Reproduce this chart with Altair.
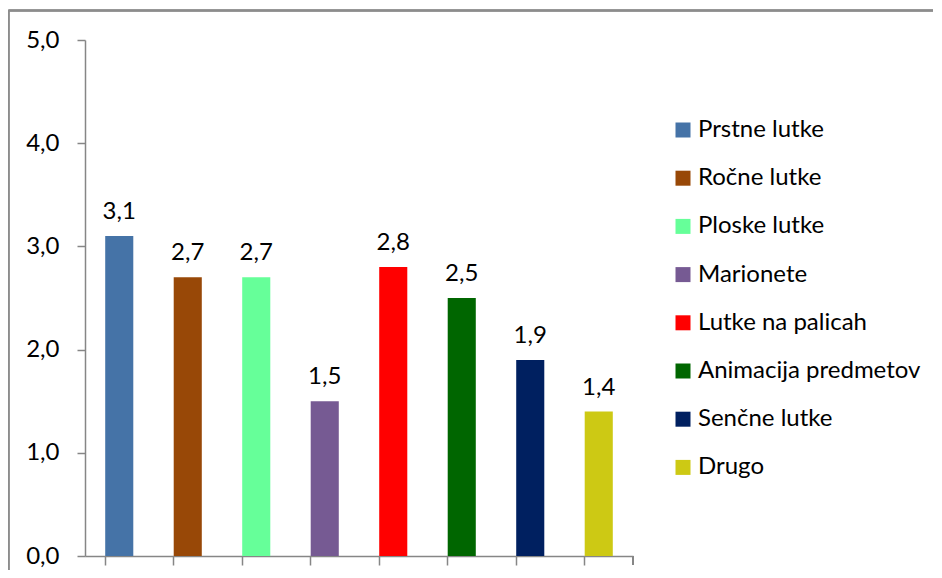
import altair as alt
import pandas as pd

categories = ["Prstne lutke", "Ročne lutke", "Ploske lutke", "Marionete",
              "Lutke na palicah", "Animacija predmetov", "Senčne lutke", "Drugo"]
values = [3.1, 2.7, 2.7, 1.5, 2.8, 2.5, 1.9, 1.4]
colors = ["#4573A7", "#984807", "#66FF99", "#765A93",
          "#FF0000", "#006600", "#002060", "#CDC914"]

df = pd.DataFrame({"cat": categories, "val": values})

W, H = 548, 516
FONT = "Lato"
FS = 24

x = alt.X("cat:N", sort=categories,
          scale=alt.Scale(paddingInner=0.59, paddingOuter=0.295),
          axis=alt.Axis(title=None, labels=False, bandPosition=0, tickSize=9,
                        domainColor="#868686", tickColor="#868686",
                        domainWidth=1.5, tickWidth=1.5))
y = alt.Y("val:Q", scale=alt.Scale(domain=[0, 5]),
          axis=alt.Axis(title=None, values=[0, 1, 2, 3, 4, 5], grid=False,
                        labelExpr="replace(format(datum.value, '.1f'), '.', ',')",
                        labelFontSize=FS, labelFont=FONT, labelColor="#000000",
                        tickSize=8, labelPadding=18, domainColor="#868686",
                        tickColor="#868686", domainWidth=1.5, tickWidth=1.5))

bars = alt.Chart(df).mark_bar().encode(
    x=x, y=y,
    color=alt.Color("cat:N", scale=alt.Scale(domain=categories, range=colors),
                    legend=alt.Legend(title=None, orient="none", legendX=586, legendY=78,
                                      symbolType="square", symbolSize=225,
                                      symbolStrokeWidth=0, labelFontSize=FS,
                                      labelFont=FONT, labelColor="#000000",
                                      rowPadding=24.2, labelOffset=3, labelLimit=400))
)

labels = alt.Chart(df).transform_calculate(
    lab="replace(format(datum.val, '.1f'), '.', ',')"
).mark_text(fontSize=FS, font=FONT, color="#000000", baseline="alphabetic", dy=-17).encode(
    x=alt.X("cat:N", sort=categories), y="val:Q", text="lab:N"
)

last_tick = alt.Chart(df).mark_rule(color="#868686", strokeWidth=1.5).encode(
    x=alt.value(W), y=alt.value(H), y2=alt.value(H + 9)
)

frame_left = alt.Chart(df).mark_rule(color="#8c8c8c", strokeWidth=1.5).encode(
    x=alt.value(-76.5), y=alt.value(-29.5), y2=alt.value(H + 30)
)
frame_top = alt.Chart(df).mark_rule(color="#8c8c8c", strokeWidth=1.5).encode(
    x=alt.value(-76.5), x2=alt.value(W + 300), y=alt.value(-29.5)
)

chart = alt.layer(bars, labels, last_tick, frame_left, frame_top).properties(
    width=W, height=H,
    background="white",
    autosize=alt.AutoSizeParams(type="none"),
    padding={"left": 77, "top": 32, "right": 300, "bottom": 14},
).configure_view(strokeWidth=0)

chart.save("out.html", embed_options={"renderer": "svg", "actions": False})
